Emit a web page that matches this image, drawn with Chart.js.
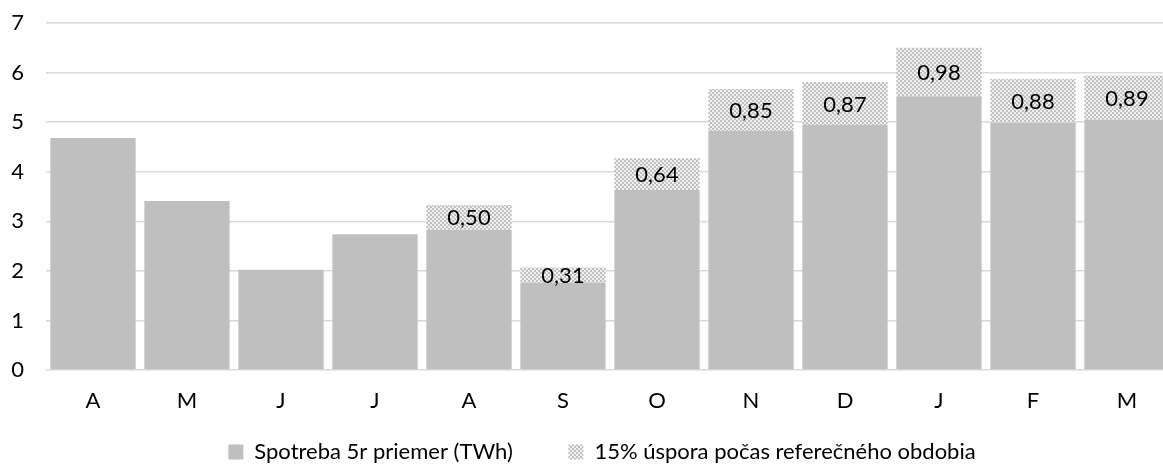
<!DOCTYPE html>
<html>
<head>
<meta charset="utf-8">
<script src="https://cdn.jsdelivr.net/npm/chart.js@4"></script>
<style>
  html, body { margin: 0; padding: 0; background: #fff; overflow: hidden; }
  #wrap { width: 1204px; height: 476px; }
</style>
</head>
<body>
<div id="wrap"><canvas id="chart" width="1204" height="476"></canvas></div>
<script>
// data
const months = ['A', 'M', 'J', 'J', 'A', 'S', 'O', 'N', 'D', 'J', 'F', 'M'];
const consumption = [4.68, 3.41, 2.02, 2.74, 2.83, 1.76, 3.63, 4.82, 4.94, 5.52, 4.99, 5.05];
const savings = [null, null, null, null, 0.50, 0.31, 0.64, 0.85, 0.87, 0.98, 0.88, 0.89];
const yTicks = [0, 1, 2, 3, 4, 5, 6, 7];

const FONT = 'Lato, "Open Sans", sans-serif';
const FS = 22;

// small checker pattern for the savings part
function makePattern() {
    const c = document.createElement('canvas');
    c.width = 4;
    c.height = 4;
    const g = c.getContext('2d');
    g.fillStyle = '#f0f0f0';
    g.fillRect(0, 0, 4, 4);
    g.fillStyle = '#c0c0c0';
    g.fillRect(0, 0, 2, 2);
    g.fillRect(2, 2, 2, 2);
    return g.createPattern(c, 'repeat');
}
const hatch = makePattern();

// labels in the middle of the top segment
const segmentLabels = {
    id: 'segmentLabels',
    afterDatasetsDraw(chart) {
        const ctx = chart.ctx;
        const meta = chart.getDatasetMeta(1);
        ctx.save();
        ctx.font = FS + 'px ' + FONT;
        ctx.fillStyle = '#000';
        ctx.textAlign = 'center';
        ctx.textBaseline = 'middle';
        meta.data.forEach((bar, i) => {
            if (savings[i] == null) return;
            const y = (bar.y + bar.base) / 2;
            ctx.fillText(savings[i].toFixed(2).replace('.', ','), bar.x, y + 1);
        });
        ctx.restore();
    }
};

const ctx = document.getElementById('chart').getContext('2d');

new Chart(ctx, {
    type: 'bar',
    data: {
        labels: months,
        datasets: [
            {
                label: 'Spotreba 5r priemer (TWh)',
                data: consumption,
                backgroundColor: '#bfbfbf',
                borderWidth: 0,
            },
            {
                label: '15% úspora počas referečného obdobia',
                data: savings,
                backgroundColor: hatch,
                borderWidth: 0,
            },
        ],
    },
    options: {
        responsive: false,
        animation: false,
        devicePixelRatio: 1,
        layout: { padding: { top: 23, right: 0, left: 0, bottom: 3 } },
        datasets: {
            bar: { categoryPercentage: 1, barPercentage: 0.907 },
        },
        plugins: {
            tooltip: { enabled: false },
            legend: {
                position: 'bottom',
                labels: {
                    font: { family: FONT, size: FS },
                    color: '#000',
                    boxWidth: 15,
                    boxHeight: 15,
                    padding: 6,
                    // wider gap between the two entries, as in the original
                    generateLabels(chart) {
                        const items = Chart.defaults.plugins.legend.labels.generateLabels(chart);
                        items[0].text = items[0].text + '\u2003\u2003\u2003';
                        return items;
                    },
                },
            },
        },
        scales: {
            x: {
                stacked: true,
                grid: { display: false, drawTicks: false },
                border: { display: false },
                afterFit(scale) {
                    scale.height = 65;
                },
                ticks: {
                    font: { family: FONT, size: FS },
                    color: '#000',
                    padding: 18,
                },
            },
            y: {
                stacked: true,
                min: yTicks[0],
                max: yTicks[yTicks.length - 1],
                afterBuildTicks(scale) {
                    scale.ticks = yTicks.map(v => ({ value: v }));
                },
                afterFit(scale) {
                    scale.width = 46;
                },
                // invisible tick marks keep the labels away from the plot
                grid: {
                    color: '#d9d9d9',
                    lineWidth: 1.5,
                    drawTicks: true,
                    tickLength: 22,
                    tickColor: 'rgba(0,0,0,0)',
                },
                border: { display: false },
                ticks: {
                    font: { family: FONT, size: FS },
                    color: '#000',
                    padding: 0,
                },
            },
            // empty right-hand axis, only reserves space so the plot runs past the crop
            yRight: {
                position: 'right',
                stacked: true,
                min: yTicks[0],
                max: yTicks[yTicks.length - 1],
                grid: { display: false, drawTicks: false },
                border: { display: false },
                ticks: { display: false },
                afterFit(scale) {
                    scale.width = 30;
                },
            },
        },
    },
    plugins: [segmentLabels],
});
</script>
</body>
</html>
